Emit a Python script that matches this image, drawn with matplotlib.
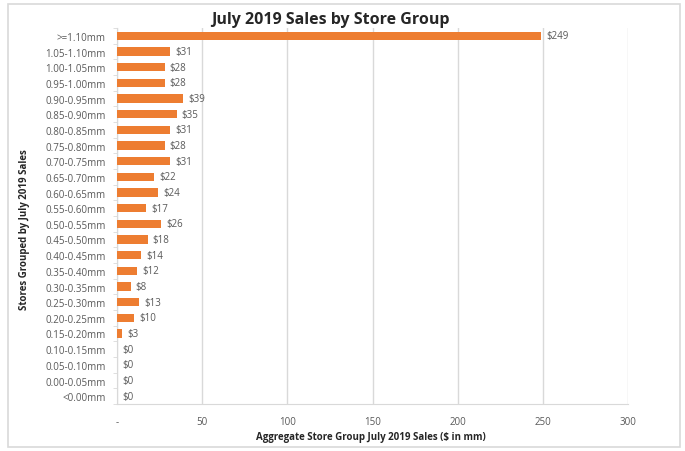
import numpy as np
import matplotlib.pyplot as plt
from matplotlib.patches import Rectangle

# Store groups, top to bottom
groups = [">=1.10mm", "1.05-1.10mm", "1.00-1.05mm", "0.95-1.00mm", "0.90-0.95mm",
          "0.85-0.90mm", "0.80-0.85mm", "0.75-0.80mm", "0.70-0.75mm", "0.65-0.70mm",
          "0.60-0.65mm", "0.55-0.60mm", "0.50-0.55mm", "0.45-0.50mm", "0.40-0.45mm",
          "0.35-0.40mm", "0.30-0.35mm", "0.25-0.30mm", "0.20-0.25mm", "0.15-0.20mm",
          "0.10-0.15mm", "0.05-0.10mm", "0.00-0.05mm", "<0.00mm"]
sales = [249, 31, 28, 28, 39, 35, 31, 28, 31, 22, 24, 17, 26, 18, 14, 12, 8, 13, 10, 3,
         0, 0, 0, 0]
xticks = [0, 50, 100, 150, 200, 250, 300]
xticklabels = ["-", "50", "100", "150", "200", "250", "300"]

plt.rcParams['font.family'] = ['Open Sans', 'DejaVu Sans']
text_grey = '#595959'
line_grey = '#d9d9d9'

W, H = 685, 452
fig = plt.figure(figsize=(W / 100, H / 100), dpi=100)
ax = fig.add_axes([117 / W, 1 - 405 / H, 511 / W, 376 / H])

# outer chart border
fig.patches.append(Rectangle((8 / W, 1 - 448 / H), 672 / W, 443 / H,
                             transform=fig.transFigure, fill=False,
                             edgecolor=line_grey, linewidth=1.2))

y = np.arange(len(groups))
ax.barh(y, sales, height=0.52, color='#ED7D31', zorder=3)
for yi, v in zip(y, sales):
    ax.text(v + 3, yi, f"${v}", va='center', ha='left', fontsize=7, color=text_grey)

ax.set_xlim(0, 300)
ax.set_ylim(len(groups) - 0.5, -0.5)
ax.set_yticks(y)
ax.set_yticklabels(groups, fontsize=7, color=text_grey)
ax.set_xticks(xticks)
ax.set_xticklabels(xticklabels, fontsize=7, color=text_grey)
ax.tick_params(axis='y', length=0, pad=8)
ax.tick_params(axis='x', length=0, pad=9)
ax.set_yticks(np.arange(len(groups) + 1) - 0.5, minor=True)
ax.tick_params(axis='y', which='minor', length=3, color=line_grey)

ax.grid(axis='x', color=line_grey, linewidth=1, zorder=0)
for side in ['top', 'right']:
    ax.spines[side].set_visible(False)
for side in ['left', 'bottom']:
    ax.spines[side].set_color(line_grey)

fig.text(330 / W, 1 - 20 / H, "July 2019 Sales by Store Group", fontsize=11.5,
         fontweight='bold', color='#262626', ha='center', va='center')
ax.set_xlabel("Aggregate Store Group July 2019 Sales ($ in mm)", fontsize=7,
              fontweight='bold', color='#262626', va='center')
ax.xaxis.set_label_coords((371 - 117) / 511, (405 - 438) / 376)
ax.set_ylabel("Stores Grouped by July 2019 Sales", fontsize=7, fontweight='bold',
              color='#262626', va='center')
ax.yaxis.set_label_coords((25 - 117) / 511, (405 - 230) / 376)

fig.savefig('out.png', dpi=100)
